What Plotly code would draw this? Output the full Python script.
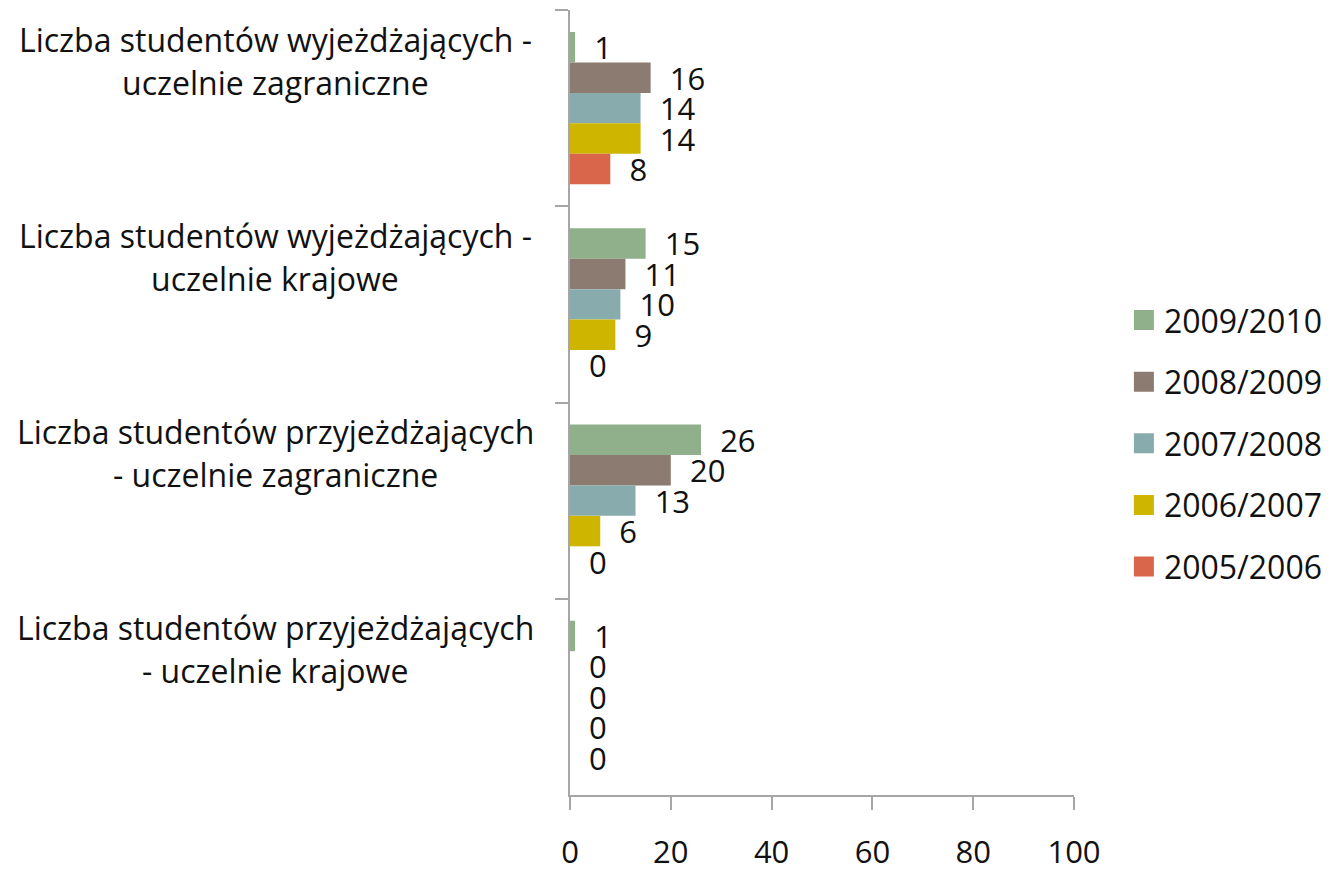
import plotly.graph_objects as go

categories = [
    "Liczba studentów wyjeżdżających -<br>uczelnie zagraniczne",
    "Liczba studentów wyjeżdżających -<br>uczelnie krajowe",
    "Liczba studentów przyjeżdżających<br>- uczelnie zagraniczne",
    "Liczba studentów przyjeżdżających<br>- uczelnie krajowe",
]
series_names = ["2009/2010", "2008/2009", "2007/2008", "2006/2007", "2005/2006"]
values_2009_2010 = [1, 15, 26, 1]
values_2008_2009 = [16, 11, 20, 0]
values_2007_2008 = [14, 10, 13, 0]
values_2006_2007 = [14, 9, 6, 0]
values_2005_2006 = [8, 0, 0, 0]
series_values = [values_2009_2010, values_2008_2009, values_2007_2008,
                 values_2006_2007, values_2005_2006]
colors = ["#8FB08B", "#8C7B70", "#88ABAE", "#CDB500", "#D9664A"]
x_ticks = [0, 20, 40, 60, 80, 100]

FONT = "Open Sans"
FS = 31

fig = go.Figure()
for name, vals, col in zip(series_names, series_values, colors):
    fig.add_trace(go.Bar(
        y=categories, x=vals, name=name, orientation="h",
        marker=dict(color=col, line=dict(width=0)),
        text=vals, texttemplate="  %{x}", textposition="outside",
        textfont=dict(family=FONT, size=FS, color="#111111"),
        constraintext="none", cliponaxis=False,
        legendgroup=name, showlegend=False,
    ))
# legend entries with larger square symbols
for name, col in zip(series_names, colors):
    fig.add_trace(go.Scatter(
        x=[None], y=[None], mode="markers", name=name,
        marker=dict(symbol="square", size=16, color=col,
                    line=dict(color=col, width=4)),
        legendgroup=name, showlegend=True,
    ))

# category labels: each line placed separately (centered, wider line spacing)
line_shifts = [69, 26]
for cat in categories:
    for line, shift in zip(cat.split("<br>"), line_shifts):
        fig.add_annotation(
            x=-0.585, xref="paper", y=cat, yref="y",
            text=line, showarrow=False, align="center",
            xanchor="center", yanchor="middle", yshift=shift,
            font=dict(family=FONT, size=32, color="#111111"),
        )

# page body has an 8px margin: figure is sized/positioned to compensate
fig.update_layout(
    width=1327, height=861,
    margin=dict(l=562, r=261, t=2, b=74, autoexpand=False),
    paper_bgcolor="white", plot_bgcolor="white",
    barmode="group", bargap=0.224, bargroupgap=0,
    showlegend=True,
    legend=dict(x=1.099, y=0.448, xanchor="left", yanchor="middle",
                font=dict(family=FONT, size=32, color="#111111"),
                traceorder="grouped", tracegroupgap=17,
                itemwidth=30, bgcolor="rgba(0,0,0,0)"),
    font=dict(family=FONT),
)
fig.update_xaxes(range=[0, 100], tickvals=x_ticks, showgrid=False, zeroline=False,
                 showline=True, linecolor="#A6A6A6", linewidth=2,
                 ticks="outside", ticklen=13, tickcolor="#A6A6A6", tickwidth=2,
                 ticklabelstandoff=16, automargin=False,
                 tickfont=dict(family=FONT, size=FS, color="#111111"))
fig.update_yaxes(autorange="reversed", showticklabels=False, showgrid=False,
                 showline=True, linecolor="#A6A6A6", linewidth=2,
                 ticks="outside", ticklen=13, tickcolor="#A6A6A6", tickwidth=2,
                 tickson="boundaries", zeroline=False, automargin=False)

fig.write_html("out.html")
